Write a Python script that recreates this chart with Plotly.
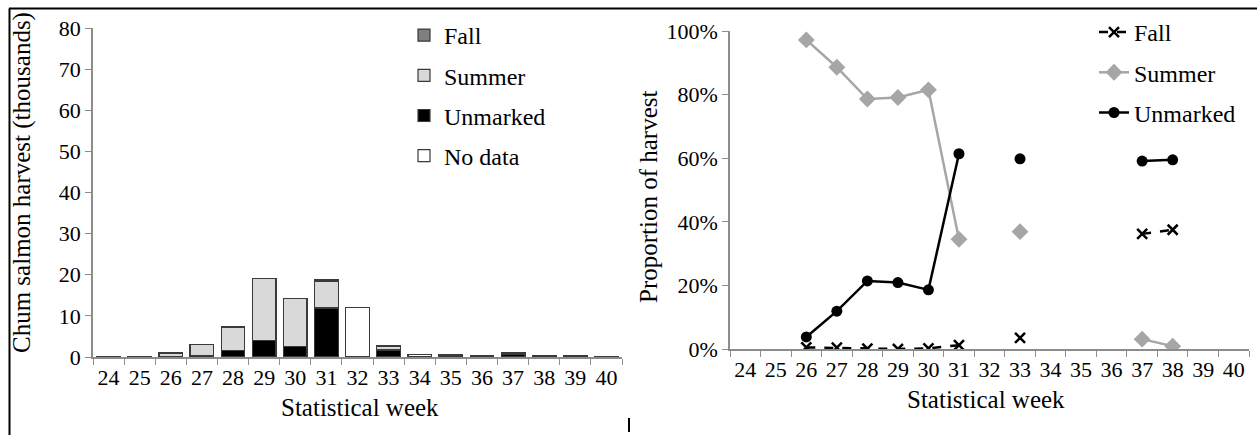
import plotly.graph_objects as go

# Statistical weeks
weeks = [str(w) for w in range(24, 41)]

# Harvest by stock (thousands of chum salmon); None where no sample
unmarked = [None, None, 0.04, 0.35, 1.6, 4.0, 2.6, 11.9, None, 1.7, None, None, None, 0.7, 0.24, None, None]
summer   = [None, None, 0.95, 2.65, 5.7, 15.0, 11.6, 6.6, None, 1.0, None, None, None, 0.04, 0.01, None, None]
fall     = [None, None, 0.01, 0.01, None, 0.08, 0.05, 0.3, None, 0.1, None, None, None, 0.43, 0.15, None, None]
no_data  = [0.08, 0.1, None, None, None, None, None, None, 12.1, None, 0.7, 0.5, 0.45, None, None, 0.25, 0.06]

# Proportion of sampled harvest by stock
prop_fall     = [None, None, 0.005, 0.004, 0.001, 0.0, 0.002, 0.012, None, 0.035, None, None, None, 0.362, 0.375, None, None]
prop_summer   = [None, None, 0.972, 0.886, 0.786, 0.791, 0.815, 0.345, None, 0.369, None, None, None, 0.031, 0.009, None, None]
prop_unmarked = [None, None, 0.038, 0.119, 0.214, 0.209, 0.186, 0.614, None, 0.598, None, None, None, 0.591, 0.595, None, None]

W, H = 1257, 435
FONT = "Liberation Serif"
AXIS_GRAY = "#8c8c8c"
OUTLINE = "#3a3a3a"


def px_x(p):
    return p / W


def px_y(p):
    return 1 - p / H


fig = go.Figure()

bar_specs = [
    ("Unmarked", unmarked, "#000000", 3),
    ("Summer", summer, "#d9d9d9", 2),
    ("Fall", fall, "#7f7f7f", 1),
    ("No data", no_data, "#ffffff", 4),
]
for name, vals, color, rank in bar_specs:
    fig.add_trace(go.Bar(
        x=weeks, y=vals, name=name,
        marker=dict(color=color, line=dict(color=OUTLINE, width=1.2)),
        xaxis="x", yaxis="y", legend="legend", legendrank=rank,
        legendgroup=name,
    ))

line_specs = [
    ("Fall", prop_fall, "#000000", "dash", dict(symbol="x-thin", size=10, line=dict(color="#000000", width=2.5)), 1),
    ("Summer", prop_summer, "#a6a6a6", "solid", dict(symbol="diamond", size=13, color="#a6a6a6"), 2),
    ("Unmarked", prop_unmarked, "#000000", "solid", dict(symbol="circle", size=11, color="#000000"), 3),
]
for name, vals, color, dash, marker, rank in line_specs:
    fig.add_trace(go.Scatter(
        x=weeks, y=vals, name=name, mode="lines+markers",
        line=dict(color=color, width=2.5, dash=dash),
        marker=marker, connectgaps=False,
        xaxis="x2", yaxis="y2", legend="legend2", legendrank=rank,
        legendgroup="p" + name,
    ))

tick_font = dict(family=FONT, size=22, color="#000000")
title_font = dict(family=FONT, size=25, color="#000000")

common_x = dict(
    type="category", categoryorder="array", categoryarray=weeks,
    range=[-0.5, len(weeks) - 0.5],
    showline=True, linecolor=AXIS_GRAY, linewidth=1.5,
    ticks="outside", ticklen=6, tickcolor=AXIS_GRAY, tickwidth=1.2,
    tickson="boundaries", tickangle=0, showgrid=False, tickfont=tick_font,
    automargin=False,
)
common_y = dict(
    showline=True, linecolor=AXIS_GRAY, linewidth=1.5,
    ticks="outside", ticklen=6, tickcolor=AXIS_GRAY, tickwidth=1.2,
    showgrid=False, zeroline=False, tickfont=tick_font, automargin=False,
)

fig.update_layout(
    width=W, height=H,
    margin=dict(l=0, r=0, t=0, b=0, autoexpand=False),
    paper_bgcolor="#ffffff", plot_bgcolor="#ffffff",
    barmode="stack", bargap=0.24,
    font=dict(family=FONT, color="#000000"),
    xaxis=dict(domain=[px_x(93), px_x(622)], anchor="y", **common_x),
    yaxis=dict(domain=[px_y(357), px_y(28)], anchor="x", range=[0, 80], dtick=10, **common_y),
    xaxis2=dict(domain=[px_x(730), px_x(1249)], anchor="y2", **common_x),
    yaxis2=dict(domain=[px_y(349), px_y(31)], anchor="x2", range=[0, 1], dtick=0.2,
                tickformat=".0%", **common_y),
    legend=dict(x=px_x(404), y=px_y(13), xanchor="left", yanchor="top",
                font=dict(family=FONT, size=24, color="#000000"),
                bgcolor="rgba(0,0,0,0)", traceorder="grouped", tracegroupgap=6,
                itemwidth=30),
    legend2=dict(x=px_x(1094), y=px_y(10), xanchor="left", yanchor="top",
                 font=dict(family=FONT, size=24, color="#000000"),
                 bgcolor="rgba(0,0,0,0)", traceorder="grouped", tracegroupgap=6,
                 itemwidth=30),
    showlegend=True,
)

# Axis titles
title_ann = dict(xref="paper", yref="paper", showarrow=False, font=title_font,
                 xanchor="center", yanchor="middle")
fig.add_annotation(text="Chum salmon harvest (thousands)", textangle=-90,
                   x=px_x(22), y=px_y(183), **title_ann)
fig.add_annotation(text="Proportion of harvest", textangle=-90,
                   x=px_x(648), y=px_y(197), **title_ann)
fig.add_annotation(text="Statistical week", x=px_x(360), y=px_y(407), **title_ann)
fig.add_annotation(text="Statistical week", x=px_x(986), y=px_y(399), **title_ann)

# Page frame lines
frame = dict(type="line", xref="paper", yref="paper", line=dict(color="#000000", width=2))
fig.add_shape(x0=px_x(9), x1=1, y0=px_y(8.5), y1=px_y(8.5), **frame)
fig.add_shape(x0=px_x(9.5), x1=px_x(9.5), y0=px_y(8.5), y1=0, **frame)
fig.add_shape(x0=px_x(629), x1=px_x(629), y0=px_y(418), y1=px_y(432), **frame)

fig.write_html("out.html")
